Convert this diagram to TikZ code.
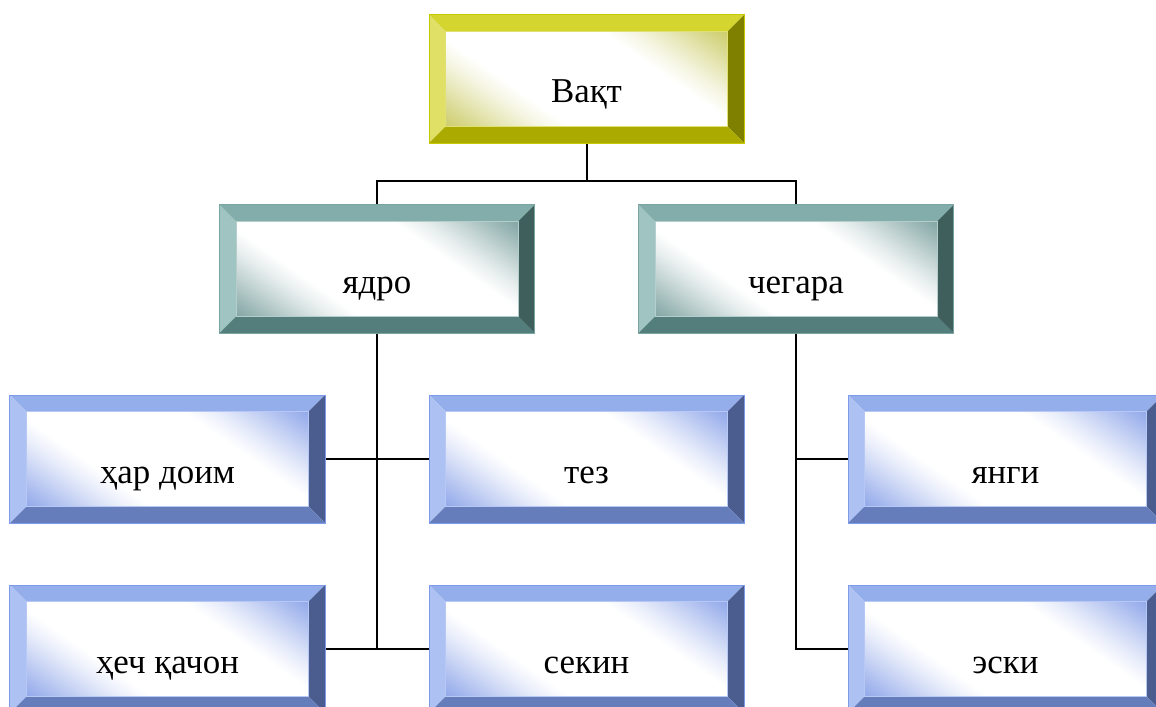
\documentclass[tikz,border=0pt]{standalone}
\usepackage{fontspec}
\setmainfont{Liberation Serif}
\usetikzlibrary{calc}

% bevel colours: yellow (Y), teal (T), blue (B)
\definecolor{Ytop}{HTML}{D5D530}
\definecolor{Yleft}{HTML}{E0E066}
\definecolor{Yright}{HTML}{808000}
\definecolor{Ybot}{HTML}{AAAA00}
\definecolor{Yedge}{HTML}{C8C800}
\definecolor{Yglow}{HTML}{C8C85E}

\definecolor{Ttop}{HTML}{83ADAA}
\definecolor{Tleft}{HTML}{A0C4C1}
\definecolor{Tright}{HTML}{3F5F5D}
\definecolor{Tbot}{HTML}{537E7B}
\definecolor{Tedge}{HTML}{78A4A1}
\definecolor{Tglow}{HTML}{769D9B}

\definecolor{Btop}{HTML}{94AEEC}
\definecolor{Bleft}{HTML}{AEC1F3}
\definecolor{Bright}{HTML}{4A5D8E}
\definecolor{Bbot}{HTML}{657DBB}
\definecolor{Bedge}{HTML}{7D9BEA}
\definecolor{Bglow}{HTML}{87A0E8}

% inner glow, laid over a 300bp square: coloured towards the lower left
% and upper right corners, white along the other diagonal
\pgfdeclarehorizontalshading{Yinner}{100bp}{color(0bp)=(Yglow); color(29bp)=(Yglow); color(32.5bp)=(Yglow!72!white); color(36bp)=(Yglow!42!white); color(39bp)=(Yglow!18!white); color(42bp)=(white); color(58bp)=(white); color(61bp)=(Yglow!18!white); color(64bp)=(Yglow!42!white); color(67.5bp)=(Yglow!72!white); color(71bp)=(Yglow); color(100bp)=(Yglow)}
\pgfdeclarehorizontalshading{Tinner}{100bp}{color(0bp)=(Tglow); color(29bp)=(Tglow); color(32.5bp)=(Tglow!72!white); color(36bp)=(Tglow!42!white); color(39bp)=(Tglow!18!white); color(42bp)=(white); color(58bp)=(white); color(61bp)=(Tglow!18!white); color(64bp)=(Tglow!42!white); color(67.5bp)=(Tglow!72!white); color(71bp)=(Tglow); color(100bp)=(Tglow)}
\pgfdeclarehorizontalshading{Binner}{100bp}{color(0bp)=(Bglow); color(29bp)=(Bglow); color(32.5bp)=(Bglow!72!white); color(36bp)=(Bglow!42!white); color(39bp)=(Bglow!18!white); color(42bp)=(white); color(58bp)=(white); color(61bp)=(Bglow!18!white); color(64bp)=(Bglow!42!white); color(67.5bp)=(Bglow!72!white); color(71bp)=(Bglow); color(100bp)=(Bglow)}

\tikzset{
  bevelbox/.style={
    rectangle, inner sep=0pt,
    minimum width=315bp, minimum height=128bp,
    text height=60bp, text depth=12bp,
    font=\fontsize{35}{40}\selectfont,
    draw=#1edge, line width=1bp,
    path picture={
      \coordinate (pC)  at (path picture bounding box.center);
      \coordinate (pNW) at (path picture bounding box.north west);
      \coordinate (pNE) at (path picture bounding box.north east);
      \coordinate (pSE) at (path picture bounding box.south east);
      \coordinate (pSW) at (path picture bounding box.south west);
      \coordinate (qNW) at ($(pNW)+(16.5,16.5)$);
      \coordinate (qNE) at ($(pNE)+(-16.5,16.5)$);
      \coordinate (qSE) at ($(pSE)+(-16.5,-16.5)$);
      \coordinate (qSW) at ($(pSW)+(16.5,-16.5)$);
      \begin{scope}
        \clip (qNW) rectangle (qSE);
        \shade[shading=#1inner, shading angle=55]
          ($(pC)+(-150,-150)$) rectangle ($(pC)+(150,150)$);
      \end{scope}
      \fill[#1top]   (pNW) -- (pNE) -- (qNE) -- (qNW) -- cycle;
      \fill[#1left]  (pNW) -- (qNW) -- (qSW) -- (pSW) -- cycle;
      \fill[#1right] (pNE) -- (pSE) -- (qSE) -- (qNE) -- cycle;
      \fill[#1bot]   (pSW) -- (qSW) -- (qSE) -- (pSE) -- cycle;
      \draw[#1edge!55!white, line width=0.8bp] (qNW) rectangle (qSE);
    }
  },
  conn/.style={draw=black, line width=2bp}
}

\begin{document}
\begin{tikzpicture}[x=1bp, y=-1bp]
  \useasboundingbox (0,0) rectangle (1156,707);
  \clip (0,0) rectangle (1156,707);

  % junction of the first level
  \coordinate (j1) at (586.5,181);

  % boxes
  \node[bevelbox=Y] (vakt)    at (586.5,79)  {Вақт};
  \node[bevelbox=T] (yadro)   at (377,269)   {ядро};
  \node[bevelbox=T] (chegara) at (796,269)   {чегара};
  \node[bevelbox=B] (har)     at (167.5,459) {ҳар доим};
  \node[bevelbox=B] (tez)     at (586.5,459) {тез};
  \node[bevelbox=B] (yangi)   at (1005.5,459){янги};
  \node[bevelbox=B] (hech)    at (167.5,649) {ҳеч қачон};
  \node[bevelbox=B] (sekin)   at (586.5,649) {секин};
  \node[bevelbox=B] (eski)    at (1005.5,649){эски};

  % top level connectors
  \draw[conn] (vakt.south) -- (j1);
  \draw[conn] (yadro.north) -- (yadro.north |- j1) -- (chegara.north |- j1) -- (chegara.north);

  % left group
  \draw[conn] (yadro.south) -- (yadro.south |- hech.east);
  \draw[conn] (har.east) -- (tez.west);
  \draw[conn] (hech.east) -- (sekin.west);

  % right group
  \draw[conn] (chegara.south) |- (eski.west);
  \draw[conn] (chegara.south |- yangi.west) -- (yangi.west);
\end{tikzpicture}
\end{document}
